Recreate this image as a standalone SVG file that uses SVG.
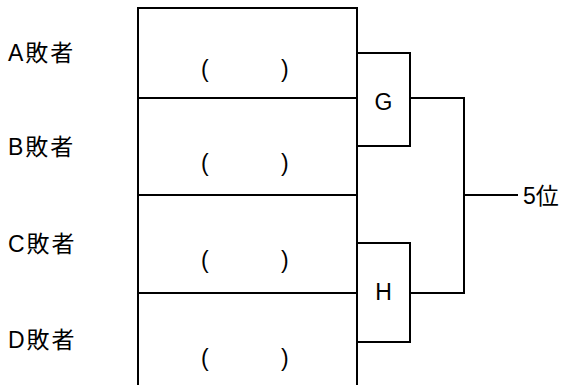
<svg xmlns="http://www.w3.org/2000/svg" width="569" height="385" viewBox="0 0 569 385">
<style>
.t{font-family:"Liberation Sans","Noto Sans CJK JP",sans-serif;font-size:23px;fill:#000}
.lb{letter-spacing:2px}
.l{fill:none;stroke:#000;stroke-width:2}
.b{fill:#fff;stroke:#000;stroke-width:2}
</style>
<rect width="569" height="385" fill="#fff"/>
<g id="labels">
<text class="t lb" x="8" y="61">A敗者</text>
<text class="t lb" x="8" y="155">B敗者</text>
<text class="t lb" x="8" y="252">C敗者</text>
<text class="t lb" x="8" y="348">D敗者</text>
</g>
<g id="slots">
<path class="l" d="M138,386 V8 H357 V386 M138,98 H357 M138,195 H357 M138,293 H357"/>
<text class="t" y="77"><tspan x="201">(</tspan><tspan x="281">)</tspan></text>
<text class="t" y="171"><tspan x="201">(</tspan><tspan x="281">)</tspan></text>
<text class="t" y="268"><tspan x="201">(</tspan><tspan x="281">)</tspan></text>
<text class="t" y="366"><tspan x="201">(</tspan><tspan x="281">)</tspan></text>
</g>
<g id="connectors">
<path class="l" d="M410,98 H464 V293 H410 M464,195 H518"/>
</g>
<g id="G">
<rect class="b" x="357" y="53" width="53" height="93"/>
<text class="t" x="383.5" y="110" text-anchor="middle">G</text>
</g>
<g id="H">
<rect class="b" x="357" y="243" width="53" height="99"/>
<text class="t" x="383.5" y="300" text-anchor="middle">H</text>
</g>
<g id="fifth">
<text class="t" x="523" y="204">5位</text>
</g>
</svg>
